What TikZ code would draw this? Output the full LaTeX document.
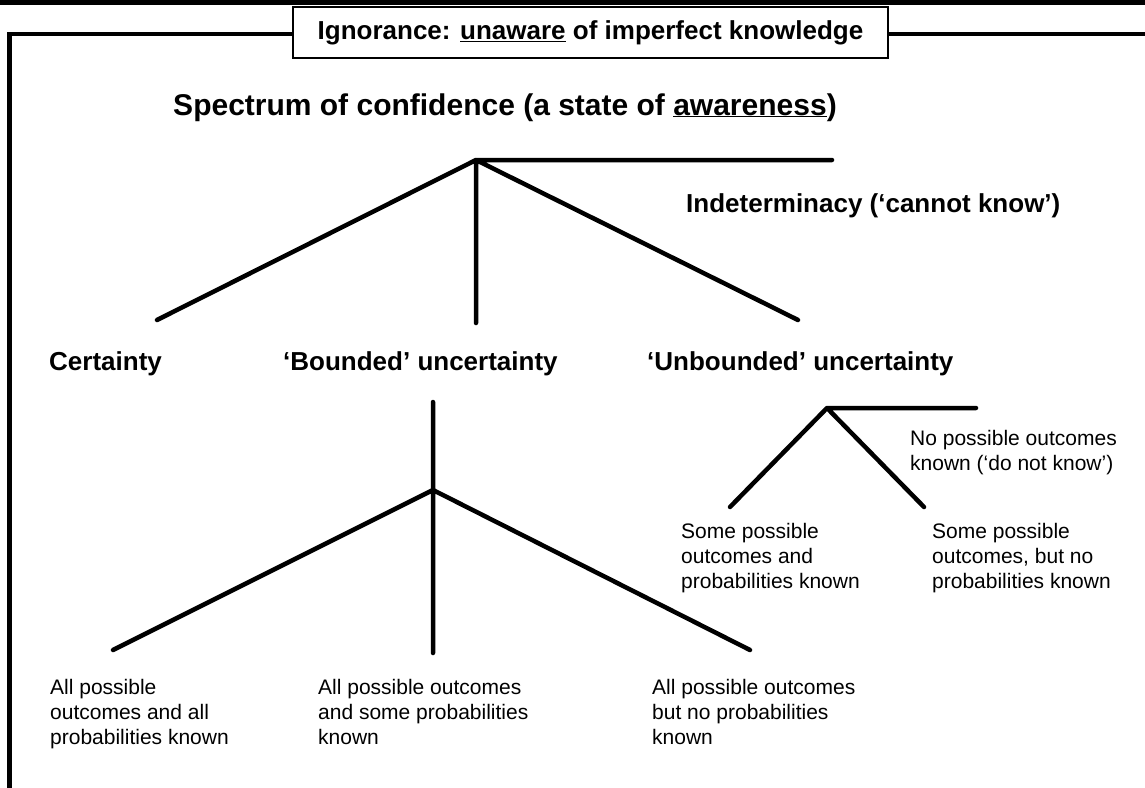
\documentclass[tikz,border=0pt]{standalone}
\usepackage{fontspec}
\setmainfont{Liberation Sans}
\usetikzlibrary{positioning}
\tikzset{
    x=1pt, y=-1pt,
    branch/.style={line width=4.5pt, line cap=round, line join=round},
    frame/.style={line width=4.5pt},
    head/.style={inner sep=0pt, anchor=base west, font=\bfseries\fontsize{26}{30}\selectfont},
    note/.style={inner sep=0pt, anchor=base west, align=left, font=\fontsize{21}{25}\selectfont}
}

\begin{document}
\begin{tikzpicture}
    \useasboundingbox (0,0) rectangle (1145,787);
    % Top rule and the frame round everything
    \fill (0,0) rectangle (1145,5);
    \node[draw, line width=1.2pt, minimum width=595pt, minimum height=51pt, inner sep=0pt,
        font=\bfseries\fontsize{26}{30}\selectfont] (ignorance) at (590.5,32.5)
        {Ignorance: \underline{unaware} of imperfect knowledge};
    \coordinate (corner) at (9.5,34);
    \coordinate (frameend) at (9.5,792);
    \coordinate (frameright) at (1150,34);
    \draw[frame] (ignorance.west |- corner) -- (corner) -- (frameend);
    \draw[frame] (ignorance.east |- corner) -- (frameright);
    \node[head, anchor=base, font=\bfseries\fontsize{30}{36}\selectfont] (spectrum) at (505,115)
        {Spectrum of confidence (a state of \underline{awareness})};
    % Main split
    \coordinate (top) at (476,160);
    \coordinate (topright) at (832,160);
    \coordinate (topleft) at (157,320);
    \coordinate (topmid) at (476,323);
    \coordinate (topdown) at (798,320);
    \draw[branch] (topleft) -- (top) -- (topmid) (top) -- (topright) (top) -- (topdown);
    \node[head] (indeterminacy) at (686,212) {Indeterminacy (‘cannot know’)};
    \node[head] (certainty) at (49,370) {Certainty};
    \node[head] (bounded) at (283,370) {‘Bounded’ uncertainty};
    \node[head] (unbounded) at (647,370) {‘Unbounded’ uncertainty};
    % Bounded uncertainty split (base of a note is its last line)
    \coordinate (mid) at (433,490);
    \coordinate (midtop) at (433,402);
    \coordinate (midleft) at (113,650);
    \coordinate (midbottom) at (433,653);
    \coordinate (midright) at (750,650);
    \draw[branch] (midtop) -- (mid) -- (midbottom) (midleft) -- (mid) -- (midright);
    \node[note] (allall) at (50,744) {All possible\\outcomes and all\\probabilities known};
    \node[note] (allsome) at (318,744) {All possible outcomes\\and some probabilities\\known};
    \node[note] (allnone) at (652,744) {All possible outcomes\\but no probabilities\\known};
    % Unbounded uncertainty split
    \coordinate (un) at (827,408);
    \coordinate (unright) at (976,408);
    \coordinate (unleft) at (730,507);
    \coordinate (undown) at (924,507);
    \draw[branch] (unleft) -- (un) -- (unright) (un) -- (undown);
    \node[note] (nooutcomes) at (910,470) {No possible outcomes\\known (‘do not know’)};
    \node[note] (somefull) at (681,588) {Some possible\\outcomes and\\probabilities known};
    \node[note] (somenone) at (932,588) {Some possible\\outcomes, but no\\probabilities known};
\end{tikzpicture}
\end{document}
